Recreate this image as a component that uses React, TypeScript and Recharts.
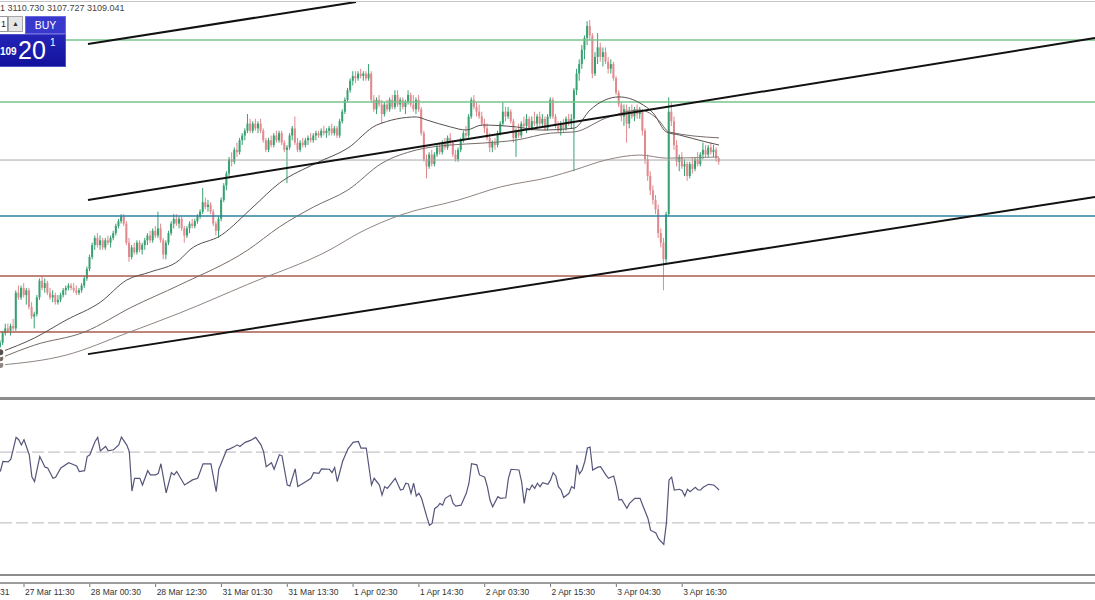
import React from 'react';
import { ComposedChart, Bar, Line, XAxis, YAxis, ReferenceLine } from 'recharts';

// 30 min bars: [open, high, low, close]
const candles: [number, number, number, number][] = [
  [3030, 3034, 3028, 3033], [3033, 3038, 3032, 3037], [3037, 3041, 3036, 3039], [3039, 3041, 3037, 3038],
  [3038, 3041, 3036, 3040], [3040, 3043, 3038, 3039], [3039, 3055, 3038, 3054], [3054, 3057, 3051, 3052],
  [3052, 3057, 3051, 3056], [3056, 3058, 3052, 3053], [3053, 3056, 3049, 3055], [3055, 3056, 3047, 3048],
  [3048, 3050, 3043, 3044], [3044, 3046, 3039, 3045], [3045, 3053, 3044, 3052], [3052, 3060, 3051, 3059],
  [3059, 3061, 3055, 3056], [3056, 3060, 3054, 3058], [3058, 3059, 3053, 3054], [3054, 3056, 3051, 3052],
  [3052, 3055, 3050, 3053], [3053, 3054, 3049, 3050], [3050, 3053, 3049, 3051], [3051, 3054, 3050, 3053],
  [3053, 3056, 3052, 3055], [3055, 3057, 3053, 3056], [3056, 3058, 3055, 3057], [3057, 3058, 3055, 3056],
  [3056, 3058, 3054, 3055], [3055, 3057, 3053, 3054], [3054, 3056, 3053, 3055], [3055, 3058, 3054, 3057],
  [3057, 3061, 3056, 3060], [3060, 3065, 3059, 3064], [3064, 3070, 3063, 3069], [3069, 3075, 3068, 3074],
  [3074, 3078, 3072, 3077], [3077, 3079, 3073, 3074], [3074, 3078, 3072, 3076], [3076, 3077, 3072, 3073],
  [3073, 3077, 3072, 3076], [3076, 3078, 3074, 3075], [3075, 3078, 3073, 3077], [3077, 3080, 3076, 3079],
  [3079, 3083, 3078, 3082], [3082, 3085, 3081, 3084], [3084, 3087, 3083, 3086], [3086, 3087, 3082, 3083],
  [3083, 3084, 3074, 3075], [3075, 3077, 3067, 3069], [3069, 3074, 3068, 3073], [3073, 3075, 3070, 3071],
  [3071, 3076, 3070, 3075], [3075, 3076, 3071, 3072], [3072, 3075, 3070, 3074], [3074, 3077, 3072, 3076],
  [3076, 3079, 3074, 3078], [3078, 3080, 3075, 3076], [3076, 3081, 3075, 3080], [3080, 3082, 3077, 3078],
  [3078, 3088, 3077, 3081], [3081, 3083, 3075, 3076], [3076, 3077, 3068, 3070], [3070, 3076, 3068, 3075],
  [3075, 3080, 3074, 3079], [3079, 3084, 3078, 3083], [3083, 3087, 3081, 3085], [3085, 3087, 3082, 3083],
  [3083, 3086, 3081, 3085], [3085, 3086, 3080, 3081], [3081, 3082, 3075, 3078], [3078, 3082, 3077, 3081],
  [3081, 3084, 3079, 3083], [3083, 3085, 3081, 3082], [3082, 3085, 3081, 3084], [3084, 3087, 3083, 3086],
  [3086, 3089, 3085, 3088], [3088, 3098, 3087, 3092], [3092, 3094, 3089, 3090], [3090, 3093, 3088, 3091],
  [3091, 3092, 3087, 3088], [3088, 3089, 3082, 3083], [3083, 3084, 3078, 3080], [3080, 3086, 3077, 3085],
  [3085, 3094, 3084, 3093], [3093, 3100, 3092, 3099], [3099, 3105, 3097, 3104], [3104, 3111, 3102, 3110],
  [3110, 3113, 3107, 3109], [3109, 3115, 3108, 3114], [3114, 3117, 3111, 3113], [3113, 3119, 3112, 3118],
  [3118, 3121, 3116, 3120], [3120, 3123, 3118, 3122], [3122, 3129, 3121, 3125], [3125, 3127, 3121, 3122],
  [3122, 3126, 3121, 3125], [3125, 3127, 3122, 3123], [3123, 3126, 3121, 3125], [3125, 3127, 3121, 3122],
  [3122, 3123, 3117, 3118], [3118, 3119, 3113, 3114], [3114, 3119, 3113, 3118], [3118, 3120, 3115, 3116],
  [3116, 3121, 3115, 3120], [3120, 3122, 3117, 3118], [3118, 3122, 3117, 3121], [3121, 3122, 3116, 3117],
  [3117, 3118, 3113, 3114], [3114, 3116, 3100, 3115], [3115, 3121, 3114, 3120], [3120, 3124, 3118, 3123],
  [3123, 3128, 3116, 3117], [3117, 3119, 3113, 3114], [3114, 3118, 3113, 3117], [3117, 3119, 3115, 3116],
  [3116, 3119, 3115, 3118], [3118, 3120, 3116, 3119], [3119, 3121, 3117, 3118], [3118, 3121, 3117, 3120],
  [3120, 3122, 3118, 3121], [3121, 3122, 3119, 3120], [3120, 3123, 3119, 3122], [3122, 3124, 3120, 3121],
  [3121, 3123, 3119, 3122], [3122, 3124, 3120, 3123], [3123, 3125, 3120, 3121], [3121, 3124, 3120, 3123],
  [3123, 3124, 3119, 3120], [3120, 3127, 3119, 3126], [3126, 3131, 3125, 3130], [3130, 3136, 3129, 3135],
  [3135, 3140, 3134, 3139], [3139, 3144, 3138, 3143], [3143, 3147, 3141, 3145], [3145, 3147, 3142, 3144],
  [3144, 3147, 3143, 3146], [3146, 3148, 3144, 3145], [3145, 3147, 3143, 3146], [3146, 3147, 3143, 3144],
  [3144, 3150, 3143, 3146], [3146, 3147, 3134, 3135], [3135, 3137, 3130, 3131], [3131, 3136, 3129, 3135],
  [3135, 3137, 3132, 3133], [3133, 3135, 3125, 3129], [3129, 3134, 3128, 3133], [3133, 3135, 3130, 3131],
  [3131, 3136, 3130, 3135], [3135, 3137, 3131, 3132], [3132, 3139, 3131, 3137], [3137, 3139, 3132, 3133],
  [3133, 3136, 3130, 3135], [3135, 3136, 3131, 3132], [3132, 3135, 3129, 3134], [3134, 3139, 3133, 3137],
  [3137, 3138, 3132, 3133], [3133, 3137, 3130, 3131], [3131, 3136, 3129, 3135], [3135, 3137, 3130, 3131],
  [3131, 3132, 3120, 3121], [3121, 3122, 3109, 3110], [3110, 3112, 3102, 3107], [3107, 3113, 3106, 3112],
  [3112, 3114, 3107, 3108], [3108, 3113, 3107, 3112], [3112, 3116, 3111, 3115], [3115, 3117, 3112, 3113],
  [3113, 3118, 3112, 3117], [3117, 3119, 3114, 3115], [3115, 3120, 3114, 3119], [3119, 3121, 3116, 3117],
  [3117, 3118, 3111, 3112], [3112, 3114, 3109, 3110], [3110, 3115, 3109, 3114], [3114, 3119, 3113, 3118],
  [3118, 3122, 3117, 3121], [3121, 3124, 3119, 3120], [3120, 3129, 3119, 3128], [3128, 3136, 3127, 3135],
  [3135, 3137, 3131, 3132], [3132, 3134, 3128, 3130], [3130, 3133, 3127, 3128], [3128, 3130, 3124, 3125],
  [3125, 3127, 3121, 3123], [3123, 3125, 3118, 3119], [3119, 3121, 3113, 3115], [3115, 3118, 3113, 3117],
  [3117, 3119, 3114, 3116], [3116, 3122, 3115, 3121], [3121, 3126, 3120, 3125], [3125, 3134, 3124, 3130],
  [3130, 3132, 3126, 3128], [3128, 3132, 3127, 3130], [3130, 3131, 3125, 3126], [3126, 3127, 3117, 3119],
  [3119, 3123, 3111, 3122], [3122, 3125, 3119, 3120], [3120, 3126, 3119, 3125], [3125, 3128, 3123, 3124],
  [3124, 3129, 3121, 3127], [3127, 3128, 3122, 3123], [3123, 3128, 3122, 3126], [3126, 3130, 3124, 3125],
  [3125, 3129, 3123, 3128], [3128, 3130, 3124, 3125], [3125, 3129, 3124, 3127], [3127, 3128, 3122, 3123],
  [3123, 3129, 3122, 3128], [3128, 3136, 3127, 3135], [3135, 3136, 3127, 3128], [3128, 3129, 3123, 3124],
  [3124, 3126, 3121, 3122], [3122, 3126, 3120, 3125], [3125, 3127, 3121, 3123], [3123, 3128, 3122, 3127],
  [3127, 3129, 3124, 3125], [3125, 3129, 3123, 3127], [3127, 3140, 3105, 3139], [3139, 3148, 3137, 3146],
  [3146, 3152, 3143, 3150], [3150, 3158, 3148, 3156], [3156, 3162, 3152, 3161], [3161, 3168, 3158, 3166],
  [3166, 3168.5, 3160, 3162], [3162, 3163, 3144, 3146], [3146, 3155, 3145, 3153], [3153, 3163, 3150, 3157],
  [3157, 3159, 3151, 3153], [3153, 3157, 3149, 3155], [3155, 3157, 3150, 3151], [3151, 3153, 3146, 3148],
  [3148, 3152, 3146, 3150], [3150, 3151, 3143, 3144], [3144, 3145, 3137, 3138], [3138, 3139, 3132, 3133],
  [3133, 3134, 3126, 3128], [3128, 3133, 3124, 3131], [3131, 3133, 3117, 3125], [3125, 3132, 3123, 3130],
  [3130, 3133, 3127, 3128], [3128, 3132, 3126, 3131], [3131, 3133, 3127, 3129], [3129, 3132, 3127, 3130],
  [3130, 3131, 3120, 3122], [3122, 3123, 3108, 3110], [3110, 3112, 3101, 3103], [3103, 3105, 3095, 3097],
  [3097, 3099, 3091, 3093], [3093, 3095, 3087, 3089], [3089, 3091, 3077, 3079], [3079, 3081, 3073, 3075],
  [3075, 3077, 3055, 3068], [3068, 3088, 3066, 3087], [3087, 3136, 3086, 3130], [3130, 3134, 3124, 3126],
  [3126, 3128, 3114, 3116], [3116, 3118, 3107, 3109], [3109, 3112, 3105, 3111], [3111, 3113, 3106, 3107],
  [3107, 3110, 3103, 3108], [3108, 3109, 3101, 3103], [3103, 3109, 3102, 3108], [3108, 3111, 3104, 3106],
  [3106, 3111, 3105, 3110], [3110, 3113, 3107, 3108], [3108, 3113, 3107, 3112], [3112, 3117, 3110, 3114],
  [3114, 3116, 3111, 3112], [3112, 3116, 3111, 3115], [3115, 3117, 3112, 3113], [3113, 3116, 3111, 3114],
  [3114, 3115, 3109, 3110.5], [3110.5, 3110.73, 3107.73, 3109.04],
];

// moving averages, [bar, value]
const maFast: [number, number][] = [
  [0, 3029], [13, 3035], [25, 3042.5], [38, 3050], [48, 3059.3], [57, 3062.7], [68, 3067.7], [72, 3072],
  [84, 3078.2], [96, 3090], [106, 3100], [120, 3108.4], [132, 3114.7], [143, 3124.4], [158, 3127.8],
  [162, 3126.5], [171, 3123.6], [177, 3122.3], [183, 3124.4], [196, 3123.6], [205, 3122.3], [218, 3123.1],
  [224, 3130.7], [235, 3136.2], [243, 3133.6], [248, 3129.4], [253, 3121.5], [258, 3120.2], [268, 3117.3],
  [273, 3116],
];
const maMid: [number, number][] = [
  [0, 3026.5], [13, 3032], [32, 3037.5], [50, 3048], [68, 3057.2], [94, 3071.9], [106, 3081.6], [119, 3090],
  [132, 3097.1], [145, 3108.4], [158, 3113.9], [171, 3116], [183, 3116.8], [196, 3118.1], [209, 3121],
  [218, 3121.5], [230, 3127.3], [243, 3130.7], [250, 3126.5], [254, 3121.5], [273, 3119],
];
const maSlow: [number, number][] = [
  [0, 3023.6], [25, 3027.8], [48, 3037], [68, 3045.4], [94, 3057.5], [125, 3071.9], [137, 3079.5],
  [152, 3086.6], [174, 3092.9], [190, 3098.4], [209, 3102.6], [218, 3105.5], [230, 3109.7], [243, 3111.8],
  [253, 3110.5], [273, 3111],
];

// RSI, [bar, value]
const rsiPoints: [number, number][] = [
  [0, 59], [1, 64.7], [3, 64.5], [4, 66], [6, 78.3], [7, 77], [8, 74], [9, 77], [11, 68.5], [12, 56], [13, 53.3],
  [15, 67.5], [17, 61.5], [18, 61], [20, 55.2], [21, 55.8], [23, 61], [26, 64], [27, 63.4], [29, 62.2], [30, 59],
  [32, 59.5], [33, 67.5], [34, 68.5], [36, 76], [37, 78.3], [38, 70.7], [40, 73.2], [41, 70.7], [43, 71.3],
  [45, 74.1], [46, 78.5], [48, 74.1], [49, 70.3], [50, 48], [51, 55.2], [53, 55.2], [54, 51.4], [56, 59.5],
  [57, 57.1], [59, 57.1], [60, 58], [61, 63.4], [63, 47], [65, 58.4], [66, 57.1], [67, 59], [70, 51.4],
  [73, 54.3], [75, 55.2], [77, 63.4], [80, 63.4], [82, 47.6], [83, 60.3], [86, 71.3], [87, 71.7], [89, 73.2],
  [90, 74.1], [91, 73.2], [93, 75.5], [95, 76.6], [97, 78.3], [99, 74.1], [100, 70.3], [101, 61.8], [103, 64],
  [104, 60.3], [106, 68.5], [107, 67.9], [109, 51.4], [110, 50.9], [112, 60.5], [113, 50.5], [116, 53.3],
  [118, 55.2], [119, 58.4], [121, 58], [122, 60.5], [125, 60.3], [126, 58.4], [127, 61.3], [128, 53.3],
  [130, 64.7], [132, 71.7], [134, 75.5], [136, 76], [137, 72.3], [139, 72.3], [141, 51.4], [142, 55.2],
  [144, 51.4], [145, 45.7], [146, 50.5], [147, 49.5], [148, 51.4], [150, 55.2], [152, 48.6], [153, 49],
  [154, 52.4], [155, 52], [156, 46.7], [157, 52.4], [158, 45.2], [159, 46.7], [160, 43.9], [162, 33.4],
  [163, 28.7], [164, 29.7], [165, 38.2], [166, 39.1], [167, 41], [168, 40], [169, 43.9], [171, 45.7], [172, 41],
  [173, 39.5], [175, 40], [177, 46.7], [178, 52.4], [179, 63.4], [181, 62.8], [182, 57.1], [184, 55.8],
  [185, 50.5], [186, 42.9], [187, 39.1], [189, 44.8], [190, 43.9], [192, 44.2], [193, 55.2], [194, 60.3],
  [197, 59.9], [198, 53.3], [199, 41], [200, 49.5], [201, 48.6], [202, 51.4], [203, 49.5], [204, 52.4],
  [205, 50.5], [206, 52.7], [208, 51.8], [209, 54.3], [210, 58.4], [211, 56.5], [212, 50.5], [213, 48.6],
  [214, 44.4], [216, 46.7], [217, 50.5], [218, 49.5], [219, 62.8], [220, 57.7], [221, 59.9], [222, 64.7],
  [223, 72.3], [224, 72.8], [225, 59.9], [227, 61.5], [228, 61.8], [230, 57.1], [231, 55.2], [233, 56.5],
  [234, 50.5], [235, 42.9], [236, 43.3], [238, 38.2], [239, 41], [241, 43.9], [243, 43.9], [244, 40],
  [246, 32.5], [247, 25.9], [249, 24.3], [250, 21.1], [252, 17.9], [253, 29.7], [254, 54.3], [255, 55.8],
  [256, 48.6], [258, 49], [259, 48.2], [260, 45.2], [261, 49], [262, 47.6], [264, 50.1], [265, 48.6],
  [266, 48.6], [267, 50.1], [269, 51.8], [271, 51.4], [272, 50.1], [273, 48.6],
];

// price levels
const greenLevels = [3160.1, 3134.1];
const blueLevels = [3086.2];
const brownLevels = [3061, 3037.5];
const currentLevel = 3109.7;
const rsiLevels = [70, 30];

// trend lines, [[bar, price], [bar, price]]
const trendLines: [number, number][][] = [
  [[33.3, 3158.4], [135.1, 3176.1]],
  [[33.3, 3092.9], [415.8, 3160.9]],
  [[33.3, 3028.2], [415.8, 3094.2]],
];

const tickBars = [9, 34, 59, 84, 109, 134, 159, 184, 209, 234, 259];
const tickLabels = [
  '27 Mar 11:30', '28 Mar 00:30', '28 Mar 12:30', '31 Mar 01:30', '31 Mar 13:30', '1 Apr 02:30',
  '1 Apr 14:30', '2 Apr 03:30', '2 Apr 15:30', '3 Apr 04:30', '3 Apr 16:30',
];

const X_DOMAIN: [number, number] = [-0.115, 415.8];
const Y_DOMAIN: [number, number] = [3010.2, 3176.9];
const W = 1095;
const FONT = '"Liberation Sans", Arial, sans-serif';
const UP = '#37a171';
const DOWN = '#e3888d';

const bars = candles.map(([o, h, l, c], i) => ({ i, o, h, l, c }));
const toPts = (arr: [number, number][]) => arr.map(([i, v]) => ({ i, v }));

function Candle(props: any) {
  const { x, y, width, height, payload } = props;
  if (x == null || !payload) return null;
  const { o, h, l, c } = payload;
  const top = Math.min(y, y + height);
  const bot = Math.max(y, y + height);
  const span = h - l || 1;
  const py = (v: number) => top + ((h - v) / span) * (bot - top);
  const cx = x + width / 2;
  const color = c >= o ? UP : DOWN;
  const bTop = py(Math.max(o, c));
  const bBot = py(Math.min(o, c));
  return (
    <g>
      <line x1={cx} x2={cx} y1={top} y2={bot} stroke={color} strokeWidth={1} />
      <rect x={cx - 1} y={bTop} width={2} height={Math.max(1, bBot - bTop)} fill={color} />
    </g>
  );
}

function TimeTick(props: any) {
  const { x, y, payload } = props;
  const idx = tickBars.indexOf(payload.value);
  return (
    <g>
      <line x1={x} x2={x} y1={y + 7} y2={y + 11} stroke="#777" />
      <text x={x + 1} y={y + 19} fontSize={8.5} fill="#333" fontFamily={FONT}>
        {tickLabels[idx]}
      </text>
    </g>
  );
}

export default function App() {
  return (
    <div style={{ position: 'absolute', left: 0, top: 0, width: W, height: 600, background: '#fff', overflow: 'hidden', fontFamily: FONT }}>
      {/* price window */}
      <div style={{ position: 'absolute', left: 0, top: 0 }}>
        <ComposedChart width={W} height={397} data={bars} margin={{ top: 0, right: 0, bottom: 0, left: 0 }}>
          <XAxis type="number" dataKey="i" domain={X_DOMAIN} hide allowDataOverflow />
          <YAxis type="number" domain={Y_DOMAIN} hide allowDataOverflow />
          {greenLevels.map((v) => (
            <ReferenceLine key={'g' + v} y={v} stroke="#79c38d" strokeWidth={1.5} />
          ))}
          {blueLevels.map((v) => (
            <ReferenceLine key={'b' + v} y={v} stroke="#30809f" strokeWidth={1.5} />
          ))}
          {brownLevels.map((v) => (
            <ReferenceLine key={'r' + v} y={v} stroke="#a95b4e" strokeWidth={1.5} />
          ))}
          <ReferenceLine y={currentLevel} stroke="#a8a8a8" strokeWidth={1} />
          <Line data={toPts(maSlow)} dataKey="v" type="monotone" stroke="#8f8580" strokeWidth={1} dot={false} isAnimationActive={false} />
          <Line data={toPts(maMid)} dataKey="v" type="monotone" stroke="#776c66" strokeWidth={1} dot={false} isAnimationActive={false} />
          <Line data={toPts(maFast)} dataKey="v" type="monotone" stroke="#57514e" strokeWidth={1} dot={false} isAnimationActive={false} />
          <Bar dataKey={(d: any) => [d.l, d.h]} shape={Candle} barSize={2} isAnimationActive={false} />
          {trendLines.map((seg, k) => (
            <ReferenceLine
              key={'t' + k}
              segment={seg.map(([x, y]) => ({ x, y }))}
              stroke="#111"
              strokeWidth={2}
              ifOverflow="visible"
            />
          ))}
        </ComposedChart>
      </div>

      {/* RSI window */}
      <div style={{ position: 'absolute', left: 0, top: 399 }}>
        <ComposedChart width={W} height={201} margin={{ top: 0, right: 0, bottom: 0, left: 0 }}>
          <XAxis
            type="number"
            dataKey="i"
            domain={X_DOMAIN}
            allowDataOverflow
            ticks={tickBars}
            interval={0}
            height={24}
            axisLine={false}
            tickLine={false}
            tickSize={0}
            tickMargin={0}
            tick={(p: any) => <TimeTick {...p} />}
          />
          <YAxis type="number" domain={[0, 100]} hide allowDataOverflow />
          {rsiLevels.map((v) => (
            <ReferenceLine key={'l' + v} y={v} stroke="#b6b6be" strokeDasharray="12 4" />
          ))}
          <Line data={toPts(rsiPoints)} dataKey="v" type="linear" stroke="#55557a" strokeWidth={1.2} dot={false} isAnimationActive={false} />
        </ComposedChart>
      </div>

      {/* window frames */}
      <div style={{ position: 'absolute', left: 0, top: 1, width: W, height: 1, background: '#c4c4c4' }} />
      <div style={{ position: 'absolute', left: 0, top: 397, width: W, height: 3, background: '#8c8c8c' }} />
      <div style={{ position: 'absolute', left: 0, top: 574, width: W, height: 2, background: '#8c8c8c' }} />
      <div style={{ position: 'absolute', left: 0, top: 582, width: W, height: 1.5, background: '#9c9c9c' }} />
      <div style={{ position: 'absolute', left: 0, top: 587, fontSize: 8.5, color: '#333', whiteSpace: 'nowrap' }}>31</div>

      {/* header */}
      <div style={{ position: 'absolute', left: 0, top: 3, fontSize: 9, color: '#444', whiteSpace: 'nowrap' }}>
        1 3110.730 3107.727 3109.041
      </div>

      {/* one-click trading panel */}
      <div style={{ position: 'absolute', left: 0, top: 16, width: 8, height: 16, background: '#fff', border: '1px solid #9a9a9a', borderLeft: 'none', fontSize: 9, color: '#222', textAlign: 'right', lineHeight: '14px', paddingRight: 1, boxSizing: 'border-box' }}>
        1
      </div>
      <div style={{ position: 'absolute', left: 8, top: 16, width: 15, height: 16, background: '#e6e6e6', border: '1px solid #a6a6a6', boxSizing: 'border-box', fontSize: 7, color: '#333', textAlign: 'center', lineHeight: '14px' }}>
        ▲
      </div>
      <div style={{ position: 'absolute', left: 25, top: 16, width: 41, height: 18, background: '#3838cc', border: '1px solid #6a6ae0', boxSizing: 'border-box', color: '#fff', fontSize: 10.5, textAlign: 'center', lineHeight: '16px' }}>
        BUY
      </div>
      <div style={{ position: 'absolute', left: 0, top: 34, width: 66, height: 33, background: 'linear-gradient(#2424b8, #12129c)', border: '1px solid #5050c8', borderLeft: 'none', boxSizing: 'border-box' }}>
        <div style={{ position: 'absolute', left: 0, top: 11, fontSize: 10, fontWeight: 'bold', color: '#fff' }}>109</div>
        <div style={{ position: 'absolute', left: 18, top: 1, fontSize: 25, color: '#fff', lineHeight: '28px' }}>20</div>
        <div style={{ position: 'absolute', left: 50, top: 2, fontSize: 10, color: '#fff' }}>1</div>
      </div>
    </div>
  );
}
